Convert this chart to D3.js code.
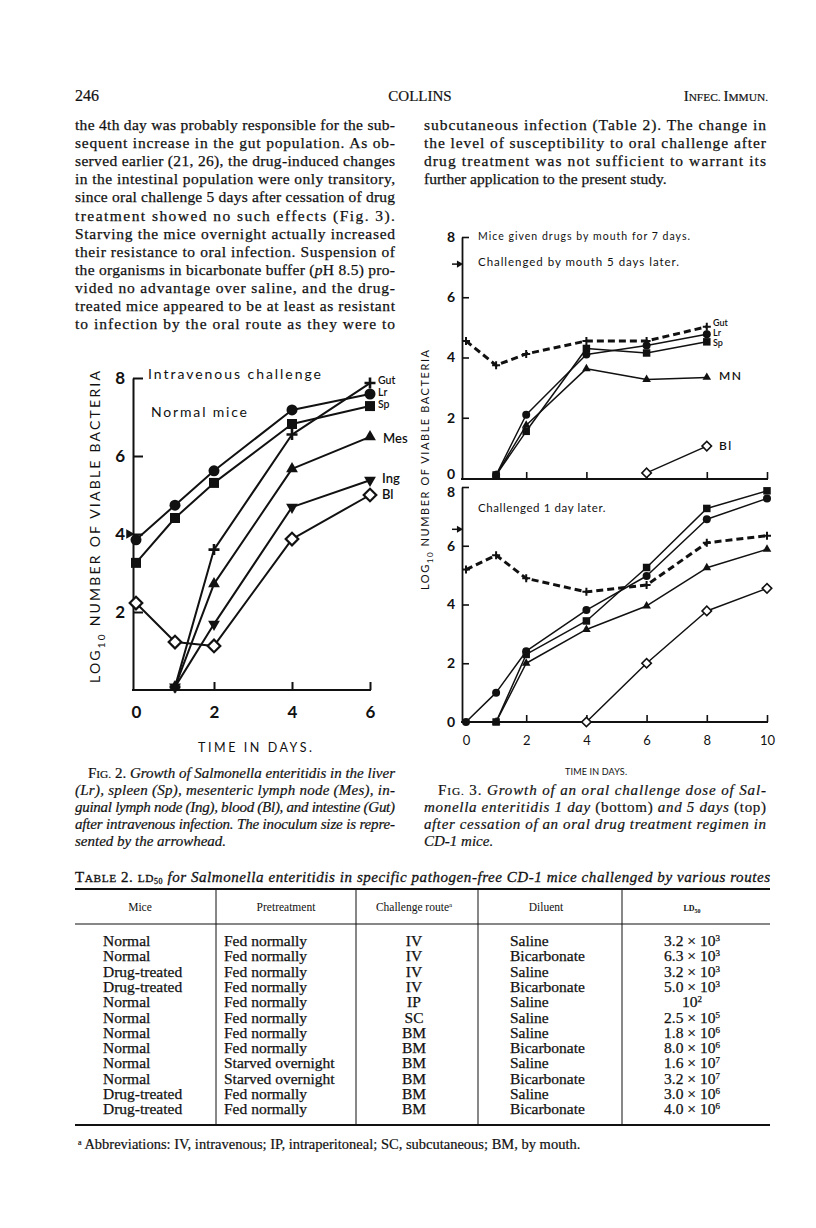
<!DOCTYPE html>
<html><head><meta charset="utf-8">
<script src="https://cdn.jsdelivr.net/npm/d3@7"></script>
<style>body{margin:0;background:#fff}svg{display:block}</style>
</head><body>
<svg id="page" width="816" height="1228"></svg>
<script>
// ---------------- DATA ----------------
// Fig. 2 (intravenous challenge, normal mice)
const fig2XTicks = [0, 2, 4, 6];
const fig2YTicks = [2, 4, 6, 8];
const fig2GutDays = [1, 2, 4, 6], fig2Gut = [0.08, 3.6, 6.55, 7.87];
const fig2LrDays  = [0, 1, 2, 4, 6], fig2Lr  = [3.85, 4.74, 5.62, 7.18, 7.59];
const fig2SpDays  = [0, 1, 2, 4, 6], fig2Sp  = [3.26, 4.41, 5.31, 6.82, 7.28];
const fig2MesDays = [1, 2, 4, 6], fig2Mes = [0.08, 2.72, 5.67, 6.49];
const fig2IngDays = [1, 2, 4, 6], fig2Ing = [0.08, 1.69, 4.69, 5.38];
const fig2BlDays  = [0, 1, 2, 4, 6], fig2Bl  = [2.23, 1.23, 1.13, 3.87, 5.0];
const fig2Inoculum = 4.0;
const fig2Labels = ["Gut", "Lr", "Sp", "Mes", "Ing", "Bl"];

// Fig. 3 top (challenged by mouth 5 days later)
const fig3XTicks = [0, 2, 4, 6, 8, 10];
const fig3YTicks = [0, 2, 4, 6, 8];
const fig3TopGutDays = [0, 1, 2, 4, 6, 8], fig3TopGut = [4.55, 3.74, 4.12, 4.55, 4.55, 5.02];
const fig3TopLrDays  = [1, 2, 4, 6, 8], fig3TopLr  = [0.1, 2.1, 4.1, 4.4, 4.77];
const fig3TopSpDays  = [1, 2, 4, 6, 8], fig3TopSp  = [0.1, 1.55, 4.3, 4.15, 4.52];
const fig3TopMNDays  = [1, 2, 4, 6, 8], fig3TopMN  = [0.1, 1.75, 3.63, 3.27, 3.34];
const fig3TopBlDays  = [6, 8], fig3TopBl = [0.17, 1.06];
const fig3TopInoculum = 7.1;
const fig3TopLabels = ["Gut", "Lr", "Sp", "MN", "Bl"];
// Fig. 3 bottom (challenged 1 day later)
const fig3BotGutDays = [0, 1, 2, 4, 6, 8, 10], fig3BotGut = [5.19, 5.68, 4.89, 4.43, 4.66, 6.1, 6.34];
const fig3BotLrDays  = [0, 1, 2, 4, 6, 8, 10], fig3BotLr  = [0, 1.0, 2.41, 3.81, 4.97, 6.9, 7.61];
const fig3BotSpDays  = [1, 2, 4, 6, 8, 10], fig3BotSp  = [0, 2.3, 3.44, 5.26, 7.27, 7.87];
const fig3BotMNDays  = [1, 2, 4, 6, 8, 10], fig3BotMN  = [0, 2.0, 3.15, 3.95, 5.25, 5.88];
const fig3BotBlDays  = [4, 6, 8, 10], fig3BotBl = [0, 2.0, 3.78, 4.55];
const fig3BotInoculum = 6.56;

// Table 2
const tblHeaders = ["Mice", "Pretreatment", "Challenge route", "Diluent", "LD"];
const tblMice = ["Normal","Normal","Drug-treated","Drug-treated","Normal","Normal","Normal","Normal","Normal","Normal","Drug-treated","Drug-treated"];
const tblPre = ["Fed normally","Fed normally","Fed normally","Fed normally","Fed normally","Fed normally","Fed normally","Fed normally","Starved overnight","Starved overnight","Fed normally","Fed normally"];
const tblRoute = ["IV","IV","IV","IV","IP","SC","BM","BM","BM","BM","BM","BM"];
const tblDiluent = ["Saline","Bicarbonate","Saline","Bicarbonate","Saline","Saline","Saline","Bicarbonate","Saline","Bicarbonate","Saline","Bicarbonate"];
const tblMant = ["3.2","6.3","3.2","5.0","","2.5","1.8","8.0","1.6","3.2","3.0","4.0"];
const tblExp = [3,3,3,3,2,5,6,6,7,7,6,6];

// Body text
const leftLines = [
 "the 4th day was probably responsible for the sub-",
 "sequent increase in the gut population. As ob-",
 "served earlier (21, 26), the drug-induced changes",
 "in the intestinal population were only transitory,",
 "since oral challenge 5 days after cessation of drug",
 "treatment showed no such effects (Fig. 3).",
 "Starving the mice overnight actually increased",
 "their resistance to oral infection. Suspension of",
 "the organisms in bicarbonate buffer (|pH 8.5) pro-",
 "vided no advantage over saline, and the drug-",
 "treated mice appeared to be at least as resistant",
 "to infection by the oral route as they were to"];
const rightLines = [
 "subcutaneous infection (Table 2). The change in",
 "the level of susceptibility to oral challenge after",
 "drug treatment was not sufficient to warrant its",
 "further application to the present study."];

// ---------------- HELPERS ----------------
const INK = "#111";
const SERIF = "'Liberation Serif','Times New Roman',serif";
const SANS = "Lato,'Open Sans',sans-serif";
const svg = d3.select("#page");

function rich(parent, x, y, parts, o = {}) {
  const size = o.size || 15;
  const t = parent.append("text").attr("x", x).attr("y", y)
    .attr("font-family", o.family || SERIF).attr("font-size", size).attr("fill", INK);
  if (o.bold) t.attr("stroke", INK).attr("stroke-width", o.bold);
  if (o.anchor) t.attr("text-anchor", o.anchor);
  if (o.width) t.attr("textLength", o.width).attr("lengthAdjust", "spacing");
  if (o.weight) t.attr("font-weight", o.weight);
  if (o.italic) t.attr("font-style", "italic");
  if (o.ls) t.attr("letter-spacing", o.ls);
  if (o.rotate) t.attr("transform", `rotate(${o.rotate},${x},${y})`);
  let cur = 0;
  parts.forEach(p => {
    if (typeof p === "string") p = [p, {}];
    const st = p[1] || {};
    const s = t.append("tspan").text(p[0]);
    if (st.i) s.attr("font-style", "italic");
    if (st.n) s.attr("font-style", "normal");
    if (st.sc) s.attr("font-size", size * 0.76);
    if (st.fs) s.attr("font-size", st.fs);
    const target = st.dy || 0;
    if (target !== cur) { s.attr("dy", target - cur); cur = target; }
  });
  return t;
}

const plusType = { draw(ctx, size) { const r = Math.sqrt(size) / 2; ctx.moveTo(-r, 0); ctx.lineTo(r, 0); ctx.moveTo(0, -r); ctx.lineTo(0, r); } };

function drawSeries(g, x, y, days, vals, kind, o) {
  const pts = days.map((d, i) => [d, vals[i]]);
  g.append("path").datum(pts)
    .attr("d", d3.line().x(d => x(d[0])).y(d => y(d[1])))
    .attr("fill", "none").attr("stroke", INK).attr("stroke-width", o.lw)
    .attr("stroke-dasharray", o.dash || null).attr("stroke-linejoin", "round");
  const s = o.ms;
  const sel = g.selectAll(null).data(pts).enter().append("path")
    .attr("fill", INK).attr("stroke", "none");
  const tr = d => `translate(${x(d[0])},${y(d[1])})`;
  if (kind === "circle") sel.attr("d", d3.symbol(d3.symbolCircle, Math.PI * s * s / 4)()).attr("transform", tr);
  if (kind === "square") sel.attr("d", d3.symbol(d3.symbolSquare, s * s)()).attr("transform", tr);
  if (kind === "tri") sel.attr("d", d3.symbol(d3.symbolTriangle, s * s * 0.5)()).attr("transform", tr);
  if (kind === "triDown") sel.attr("d", d3.symbol(d3.symbolTriangle, s * s * 0.5)())
      .attr("transform", d => tr(d) + " rotate(180)");
  if (kind === "diamond") sel.attr("d", d3.symbol(d3.symbolSquare, s * s * 0.55)())
      .attr("fill", "#fff").attr("stroke", INK).attr("stroke-width", o.dw || 2)
      .attr("transform", d => tr(d) + " rotate(45)");
  if (kind === "plus") sel.attr("d", d3.symbol(plusType, s * s)())
      .attr("fill", "none").attr("stroke", INK).attr("stroke-width", o.pw || 2.4).attr("transform", tr);
}

// ---------------- RUNNING HEAD ----------------
rich(svg, 75, 101, ["246"], { size: 16, bold: 0.2 });
rich(svg, 420, 101, ["COLLINS"], { size: 15, anchor: "middle", bold: 0.2 });
rich(svg, 768, 101, ["I", ["NFEC. ", { sc: 1 }], "I", ["MMUN.", { sc: 1 }]], { size: 15, anchor: "end", bold: 0.2 });

// ---------------- BODY TEXT ----------------
function bodyLine(x, y, str, w, justify) {
  const parts = [];
  if (str.includes("|")) {
    const [a, b] = str.split("|");
    parts.push(a, ["p", { i: 1 }], b.slice(1));
  } else parts.push(str);
  rich(svg, x, y, parts, { size: 15.5, width: justify ? w : null, bold: 0.25 });
}
const LEAD = 18.1;
leftLines.forEach((s, i) => bodyLine(75, 130 + i * LEAD, s, 320, true));
rightLines.forEach((s, i) => bodyLine(424, 130 + i * LEAD, s, 342, i < rightLines.length - 1));

// ---------------- FIG. 2 ----------------
const g2 = svg.append("g");
const x2 = d3.scaleLinear().domain([0, 6]).range([136, 370]);
const y2 = d3.scaleLinear().domain([0, 8]).range([690, 378]);
const yAx2 = g2.append("g").attr("transform", "translate(133,0)")
  .call(d3.axisLeft(y2).tickValues(fig2YTicks).tickFormat(d3.format("d")).tickSize(-10).tickSizeOuter(0).tickPadding(8));
yAx2.select(".domain").attr("stroke", INK).attr("stroke-width", 2);
yAx2.selectAll(".tick line").attr("stroke", INK).attr("stroke-width", 2);
yAx2.selectAll(".tick text").attr("font-family", SANS).attr("font-size", 17).attr("font-weight", 700).attr("fill", INK);
const xAx2 = g2.append("g").attr("transform", "translate(0,690)")
  .call(d3.axisBottom(x2).tickValues(fig2XTicks).tickFormat(d3.format("d")).tickSize(-8).tickSizeOuter(0).tickPadding(16));
xAx2.select(".domain").remove();
xAx2.selectAll(".tick line").attr("stroke", INK).attr("stroke-width", 2).attr("opacity", d => d === 0 ? 0 : 1);
xAx2.selectAll(".tick text").attr("font-family", SANS).attr("font-size", 17).attr("font-weight", 700).attr("fill", INK);
g2.append("line").attr("x1", 132).attr("x2", x2(6) + 1).attr("y1", y2(0)).attr("y2", y2(0)).attr("stroke", INK).attr("stroke-width", 2);
// inoculum arrowhead
g2.append("path").attr("d", d3.symbol(d3.symbolTriangle, 40)())
  .attr("transform", `translate(129,${y2(fig2Inoculum)}) rotate(90)`).attr("fill", INK);

const o2 = { lw: 2, ms: 11 };
drawSeries(g2, x2, y2, fig2BlDays, fig2Bl, "diamond", { lw: 2, ms: 12, dw: 2.2 });
drawSeries(g2, x2, y2, fig2IngDays, fig2Ing, "triDown", o2);
drawSeries(g2, x2, y2, fig2MesDays, fig2Mes, "tri", o2);
drawSeries(g2, x2, y2, fig2SpDays, fig2Sp, "square", { lw: 2, ms: 10 });
drawSeries(g2, x2, y2, fig2LrDays, fig2Lr, "circle", o2);
drawSeries(g2, x2, y2, fig2GutDays, fig2Gut, "plus", { lw: 2, ms: 11, pw: 2.6 });

const f2lab = [[378, 384, 10.5], [378, 396, 10.5], [378, 408, 10.5], [383, 443, 13], [382, 483, 13], [382, 499, 13]];
fig2Labels.forEach((l, i) => rich(g2, f2lab[i][0], f2lab[i][1], [l], { family: SANS, size: f2lab[i][2], weight: 600 }));

rich(g2, 148, 379, ["Intravenous challenge"], { family: SANS, size: 14, width: 173 });
rich(g2, 151, 417, ["Normal mice"], { family: SANS, size: 14, width: 96 });
rich(g2, 100, 527, ["LOG", ["10", { fs: 10, dy: 5 }], [" NUMBER OF VIABLE  BACTERIA", { dy: 0 }]],
  { family: SANS, size: 14, anchor: "middle", rotate: -90, width: 312 });
rich(g2, 255, 752, ["TIME  IN  DAYS."], { family: SANS, size: 12.5, anchor: "middle", width: 114 });

// ---------------- FIG. 3 ----------------
const g3 = svg.append("g");
const x3 = d3.scaleLinear().domain([0, 10]).range([466, 767]);
const y3t = d3.scaleLinear().domain([0, 8]).range([478, 237]);
const y3b = d3.scaleLinear().domain([0, 8]).range([722, 487]);
function fig3Axes(y, base, labelShift) {
  const ya = g3.append("g").attr("transform", "translate(462,0)")
    .call(d3.axisLeft(y).tickValues(fig3YTicks).tickFormat(d3.format("d")).tickSize(-7).tickSizeOuter(0).tickPadding(7));
  ya.select(".domain").attr("stroke", INK).attr("stroke-width", 1.8);
  ya.selectAll(".tick line").attr("stroke", INK).attr("stroke-width", 1.6).attr("opacity", d => d === 0 ? 0 : 1);
  ya.selectAll(".tick text").attr("font-family", SANS).attr("font-size", 14).attr("font-weight", 700).attr("fill", INK)
    .attr("transform", d => `translate(0,${labelShift(d)})`);
  const xa = g3.append("g").attr("transform", `translate(0,${base})`)
    .call(d3.axisBottom(x3).tickValues(fig3XTicks.slice(1)).tickSize(-7).tickSizeOuter(0));
  xa.select(".domain").remove();
  xa.selectAll(".tick text").remove();
  xa.selectAll(".tick line").attr("stroke", INK).attr("stroke-width", 1.6);
  g3.append("line").attr("x1", 461).attr("x2", x3(10) + 1).attr("y1", base).attr("y2", base).attr("stroke", INK).attr("stroke-width", 1.8);
}
fig3Axes(y3t, y3t(0) + 1, d => d === 0 ? -4 : 0);
fig3Axes(y3b, y3b(0), d => d === 8 ? 5 : 0);
const xl3 = g3.append("g").attr("transform", `translate(0,${y3b(0)})`)
  .call(d3.axisBottom(x3).tickValues(fig3XTicks).tickFormat(d3.format("d")).tickSize(0).tickPadding(14));
xl3.select(".domain").remove();
xl3.selectAll(".tick text").attr("font-family", SANS).attr("font-size", 13).attr("fill", INK);

function arrow3(y, v) {
  g3.append("line").attr("x1", 452).attr("x2", 458).attr("y1", y(v)).attr("y2", y(v)).attr("stroke", INK).attr("stroke-width", 1.5);
  g3.append("path").attr("d", d3.symbol(d3.symbolTriangle, 22)())
    .attr("transform", `translate(459,${y(v)}) rotate(90)`).attr("fill", INK);
}
arrow3(y3t, fig3TopInoculum);
arrow3(y3b, fig3BotInoculum);

const o3 = { lw: 1.5, ms: 8 };
drawSeries(g3, x3, y3t, fig3TopBlDays, fig3TopBl, "diamond", { lw: 1.5, ms: 9, dw: 1.6 });
drawSeries(g3, x3, y3t, fig3TopMNDays, fig3TopMN, "tri", o3);
drawSeries(g3, x3, y3t, fig3TopSpDays, fig3TopSp, "square", { lw: 1.5, ms: 7.5 });
drawSeries(g3, x3, y3t, fig3TopLrDays, fig3TopLr, "circle", o3);
drawSeries(g3, x3, y3t, fig3TopGutDays, fig3TopGut, "plus", { lw: 3, ms: 8, pw: 2, dash: "7,4" });

drawSeries(g3, x3, y3b, fig3BotBlDays, fig3BotBl, "diamond", { lw: 1.5, ms: 9, dw: 1.6 });
drawSeries(g3, x3, y3b, fig3BotMNDays, fig3BotMN, "tri", o3);
drawSeries(g3, x3, y3b, fig3BotSpDays, fig3BotSp, "square", { lw: 1.5, ms: 7.5 });
drawSeries(g3, x3, y3b, fig3BotLrDays, fig3BotLr, "circle", o3);
drawSeries(g3, x3, y3b, fig3BotGutDays, fig3BotGut, "plus", { lw: 3, ms: 8, pw: 2, dash: "7,4" });

const f3lab = [[713, 326, 9], [713, 336, 9], [713, 346, 9], [719, 380, 12], [719, 450, 12]];
fig3TopLabels.forEach((l, i) => rich(g3, f3lab[i][0], f3lab[i][1], [l], { family: SANS, size: f3lab[i][2], weight: 600, ls: i >= 3 ? 1.5 : 0 }));

rich(g3, 478, 240, ["Mice given drugs by mouth for 7 days."], { family: SANS, size: 10.5, width: 212 });
rich(g3, 478, 266, ["Challenged  by  mouth  5 days  later."], { family: SANS, size: 11.5, width: 201 });
rich(g3, 478, 512, ["Challenged  1 day  later."], { family: SANS, size: 11.5, ls: 0.6 });
rich(g3, 429, 470, ["LOG", ["10", { fs: 8, dy: 4 }], [" NUMBER OF VIABLE  BACTERIA", { dy: 0 }]],
  { family: SANS, size: 11, anchor: "middle", rotate: -90, width: 240 });
rich(g3, 596, 775, ["TIME  IN  DAYS."], { family: SANS, size: 9, anchor: "middle", width: 62 });

// ---------------- CAPTIONS ----------------
const cap2 = [
  [["F"], ["IG.", { sc: 1 }], [" 2. "], ["Growth of Salmonella enteritidis in the liver", { i: 1 }]],
  [["(Lr), spleen (Sp), mesenteric lymph node (Mes), in-", { i: 1 }]],
  [["guinal lymph node (Ing), blood (Bl), and intestine (Gut)", { i: 1 }]],
  [["after intravenous infection. The inoculum size is repre-", { i: 1 }]],
  [["sented by the arrowhead.", { i: 1 }]]];
cap2.forEach((p, i) => rich(svg, i === 0 ? 88 : 75, 778 + i * 17, p, { size: 15, width: i < 4 ? (i === 0 ? 307 : 320) : null, bold: 0.2 }));
const cap3 = [
  [["F"], ["IG.", { sc: 1 }], [" 3. "], ["Growth of an oral challenge dose of Sal-", { i: 1 }]],
  [["monella enteritidis 1 day ", { i: 1 }], ["(bottom)", {}], [" and 5 days ", { i: 1 }], ["(top)"]],
  [["after cessation of an oral drug treatment regimen in", { i: 1 }]],
  [["CD-1 mice.", { i: 1 }]]];
cap3.forEach((p, i) => rich(svg, i === 0 ? 438 : 424, 795 + i * 17, p, { size: 15, width: i < 3 ? (i === 0 ? 328 : 342) : null, bold: 0.2 }));

// ---------------- TABLE 2 ----------------
const gt = svg.append("g");
rich(gt, 75, 882, [["T"], ["ABLE", { sc: 1 }], [" 2. "], ["LD", { sc: 1 }], ["50", { fs: 8, dy: 2 }],
  [" for Salmonella enteritidis in specific pathogen-free CD-1 mice challenged by various routes", { i: 1, dy: 0 }]],
  { size: 15, width: 695, bold: 0.3 });
gt.append("line").attr("x1", 75).attr("x2", 770).attr("y1", 889).attr("y2", 889).attr("stroke", INK).attr("stroke-width", 2.2);
gt.append("line").attr("x1", 75).attr("x2", 770).attr("y1", 924).attr("y2", 924).attr("stroke", INK).attr("stroke-width", 1.2);
gt.append("line").attr("x1", 75).attr("x2", 770).attr("y1", 1125).attr("y2", 1125).attr("stroke", INK).attr("stroke-width", 2.2);
[216, 356, 478, 622].forEach(xv => gt.append("line").attr("x1", xv).attr("x2", xv).attr("y1", 890).attr("y2", 1124).attr("stroke", INK).attr("stroke-width", 1));
const hdrX = [140, 286, 414, 546, 692];
tblHeaders.forEach((h, i) => {
  if (i === 2) rich(gt, hdrX[i], 911, [h, ["a", { fs: 7, dy: -4 }]], { size: 11.5, anchor: "middle" });
  else if (i === 4) rich(gt, hdrX[i], 911, [["LD", { fs: 8 }], ["50", { fs: 6, dy: 2 }]], { size: 11, anchor: "middle", weight: 700 });
  else rich(gt, hdrX[i], 911, [h], { size: 11.5, anchor: "middle" });
});
const rowY = i => 946 + i * 15.3;
tblMice.forEach((m, i) => {
  const o = { size: 15.5, bold: 0.25 };
  rich(gt, 103, rowY(i), [m], o);
  rich(gt, 224, rowY(i), [tblPre[i]], o);
  rich(gt, 414, rowY(i), [tblRoute[i]], { ...o, anchor: "middle" });
  rich(gt, 510, rowY(i), [tblDiluent[i]], o);
  const parts = tblMant[i] ? [tblMant[i] + " × 10", [String(tblExp[i]), { fs: 9, dy: -5 }]] : ["10", [String(tblExp[i]), { fs: 9, dy: -5 }]];
  rich(gt, 692, rowY(i), parts, { ...o, anchor: "middle" });
});
rich(svg, 78, 1149, [["a", { fs: 8, dy: -4 }], [" Abbreviations: IV, intravenous; IP, intraperitoneal; SC, subcutaneous; BM, by mouth.", { dy: 0 }]], { size: 14.5, bold: 0.2 });
</script>
</body></html>
